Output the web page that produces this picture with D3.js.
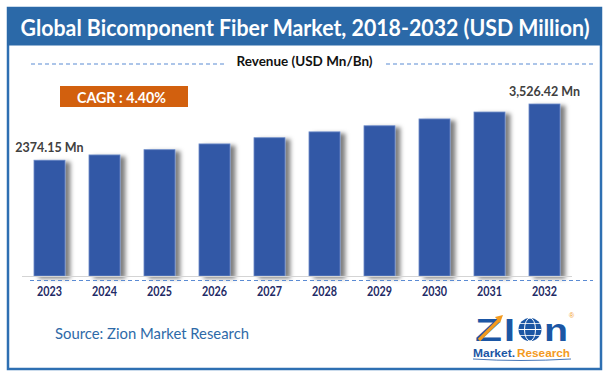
<!DOCTYPE html>
<html>
<head>
<meta charset="utf-8">
<script src="https://cdn.jsdelivr.net/npm/d3@7/dist/d3.min.js"></script>
<style>
  html, body { margin: 0; padding: 0; background: #ffffff; }
  svg { display: block; }
</style>
</head>
<body>
<div id="chart"></div>
<script>
const years = ["2023","2024","2025","2026","2027","2028","2029","2030","2031","2032"];
const revenue = [2374.15, 2482, 2590, 2708, 2835, 2955, 3080, 3220, 3362, 3526.42];
const firstLabel = "2374.15 Mn";
const lastLabel = "3,526.42 Mn";
const titleText = "Global Bicomponent Fiber Market, 2018-2032 (USD Million)";
const legendText = "Revenue (USD Mn/Bn)";
const cagrText = "CAGR : 4.40%";
const sourceText = "Source: Zion Market Research";

const W = 609, H = 378;
const font = "Lato, 'Liberation Sans', Arial, sans-serif";
const svg = d3.select("#chart").append("svg").attr("width", W).attr("height", H);

const defs = svg.append("defs");
const f = defs.append("filter").attr("id","shadow").attr("x","-20%").attr("y","-10%").attr("width","160%").attr("height","130%");
f.append("feDropShadow").attr("dx",5).attr("dy",2).attr("stdDeviation",2.2)
  .attr("flood-color","#000").attr("flood-opacity",0.5);

// frame
svg.append("rect").attr("x",8).attr("y",8).attr("width",593).attr("height",361)
  .attr("fill","#fff").attr("stroke","#2e6fb2").attr("stroke-width",2.5);
svg.append("rect").attr("x",7).attr("y",7).attr("width",595).attr("height",38.5)
  .attr("fill","#2b69a8");
svg.append("text").attr("x",305).attr("y",35.5).attr("text-anchor","middle")
  .attr("font-family",font).attr("font-weight","bold").attr("font-size",22)
  .attr("fill","#fff").attr("textLength",569).attr("lengthAdjust","spacingAndGlyphs")
  .text(titleText);

// legend
const dashCol = "#5b8bd3";
svg.append("line").attr("x1",31).attr("x2",225).attr("y1",64).attr("y2",64)
  .attr("stroke",dashCol).attr("stroke-width",1.2).attr("stroke-dasharray","4,3");
svg.append("line").attr("x1",386).attr("x2",593).attr("y1",64).attr("y2",64)
  .attr("stroke",dashCol).attr("stroke-width",1.2).attr("stroke-dasharray","4,3");
svg.append("text").attr("x",304.5).attr("y",66).attr("text-anchor","middle")
  .attr("font-family",font).attr("font-weight","bold").attr("font-size",13.5)
  .attr("fill","#111").attr("textLength",136).attr("lengthAdjust","spacingAndGlyphs")
  .text(legendText);

// CAGR box
svg.append("rect").attr("x",60).attr("y",86).attr("width",128).attr("height",21).attr("fill","#d2600e");
svg.append("text").attr("x",121.5).attr("y",102.5).attr("text-anchor","middle")
  .attr("font-family",font).attr("font-weight","bold").attr("font-size",14.5)
  .attr("fill","#fff").attr("textLength",89).attr("lengthAdjust","spacingAndGlyphs")
  .text(cagrText);

// scales
const x = d3.scaleBand().domain(years).range([22, 572]).paddingInner(0.436).paddingOuter(0.218);
const y = d3.scaleLinear().domain([0, 3526.42]).range([276, 104]);

// bars
svg.append("g").selectAll("rect").data(years).join("rect")
  .attr("x", d => x(d)).attr("width", x.bandwidth())
  .attr("y", (d,i) => y(revenue[i])).attr("height", (d,i) => y(0) - y(revenue[i]))
  .attr("fill","#3358a6").attr("stroke","#6d8cc8").attr("stroke-width",0.8)
  .attr("filter","url(#shadow)");

// baseline
svg.append("line").attr("x1",22).attr("x2",572).attr("y1",276.5).attr("y2",276.5)
  .attr("stroke","#d4d4d4").attr("stroke-width",1.2);

// axis
const axis = svg.append("g").attr("transform","translate(0,280)")
  .call(d3.axisBottom(x).tickSize(0).tickPadding(6));
axis.select(".domain").attr("d","M30,0.5H593").attr("stroke",dashCol)
  .attr("stroke-width",1.2).attr("stroke-dasharray","4,3");
axis.selectAll("text").attr("font-family",font).attr("font-weight","bold")
  .attr("font-size",12.5).attr("fill","#1f2b66").attr("dy","0").attr("y",15.5)
  .attr("textLength",25).attr("lengthAdjust","spacingAndGlyphs");

// value labels
const lab = [[0, firstLabel], [years.length-1, lastLabel]];
svg.append("g").selectAll("text").data(lab).join("text")
  .attr("x", d => x(years[d[0]]) + x.bandwidth()/2)
  .attr("y", d => y(revenue[d[0]]) - 8)
  .attr("text-anchor","middle").attr("font-family",font).attr("font-weight","bold")
  .attr("font-size",12.5).attr("fill","#404040").text(d => d[1]);

// source
svg.append("text").attr("x",55).attr("y",339).attr("font-family",font)
  .attr("font-size",15).attr("fill","#2e6aa8")
  .attr("textLength",194).attr("lengthAdjust","spacingAndGlyphs").text(sourceText);

// logo
const logo = svg.append("g");
const blue = "#1b56a4", orange = "#f39a1e";
const lf = "'Liberation Sans', Arial, sans-serif";
function big(xp, t, len) {
  logo.append("text").attr("x",xp).attr("y",340.5).attr("font-family",lf)
    .attr("font-weight","bold").attr("font-size",31).attr("fill",blue)
    .attr("textLength",len).attr("lengthAdjust","spacingAndGlyphs").text(t);
}
big(475, "Z", 27);
big(504, "I", 11);
big(544, "n", 24);
logo.append("line").attr("x1",479).attr("y1",340).attr("x2",499).attr("y2",320)
  .attr("stroke",orange).attr("stroke-width",3.2);
logo.append("path").attr("d","M495,317 L503,315 L500,323 Z").attr("fill",orange);
logo.append("circle").attr("cx",530).attr("cy",329.5).attr("r",11.5).attr("fill",blue);
logo.append("ellipse").attr("cx",530).attr("cy",329.5).attr("rx",5.5).attr("ry",11.5)
  .attr("fill","none").attr("stroke","#fff").attr("stroke-width",1);
logo.append("line").attr("x1",518.5).attr("x2",541.5).attr("y1",329.5).attr("y2",329.5).attr("stroke","#fff").attr("stroke-width",1);
logo.append("line").attr("x1",520).attr("x2",540).attr("y1",323.5).attr("y2",323.5).attr("stroke","#fff").attr("stroke-width",0.8);
logo.append("line").attr("x1",520).attr("x2",540).attr("y1",335.5).attr("y2",335.5).attr("stroke","#fff").attr("stroke-width",0.8);
logo.append("text").attr("x",569).attr("y",318).attr("font-family","Arial, sans-serif")
  .attr("font-size",7).attr("fill",orange).text("®");
logo.append("text").attr("x",473).attr("y",357).attr("font-family",lf)
  .attr("font-weight","bold").attr("font-size",10).attr("fill",blue)
  .attr("textLength",42).attr("lengthAdjust","spacingAndGlyphs").text("Market.");
logo.append("text").attr("x",517).attr("y",357).attr("font-family",lf)
  .attr("font-weight","bold").attr("font-size",10).attr("fill",orange)
  .attr("textLength",53).attr("lengthAdjust","spacingAndGlyphs").text("Research");
logo.append("path").attr("d","M473,359 Q520,362 571,359").attr("fill","none").attr("stroke",blue).attr("stroke-width",0.8);
</script>
</body>
</html>
